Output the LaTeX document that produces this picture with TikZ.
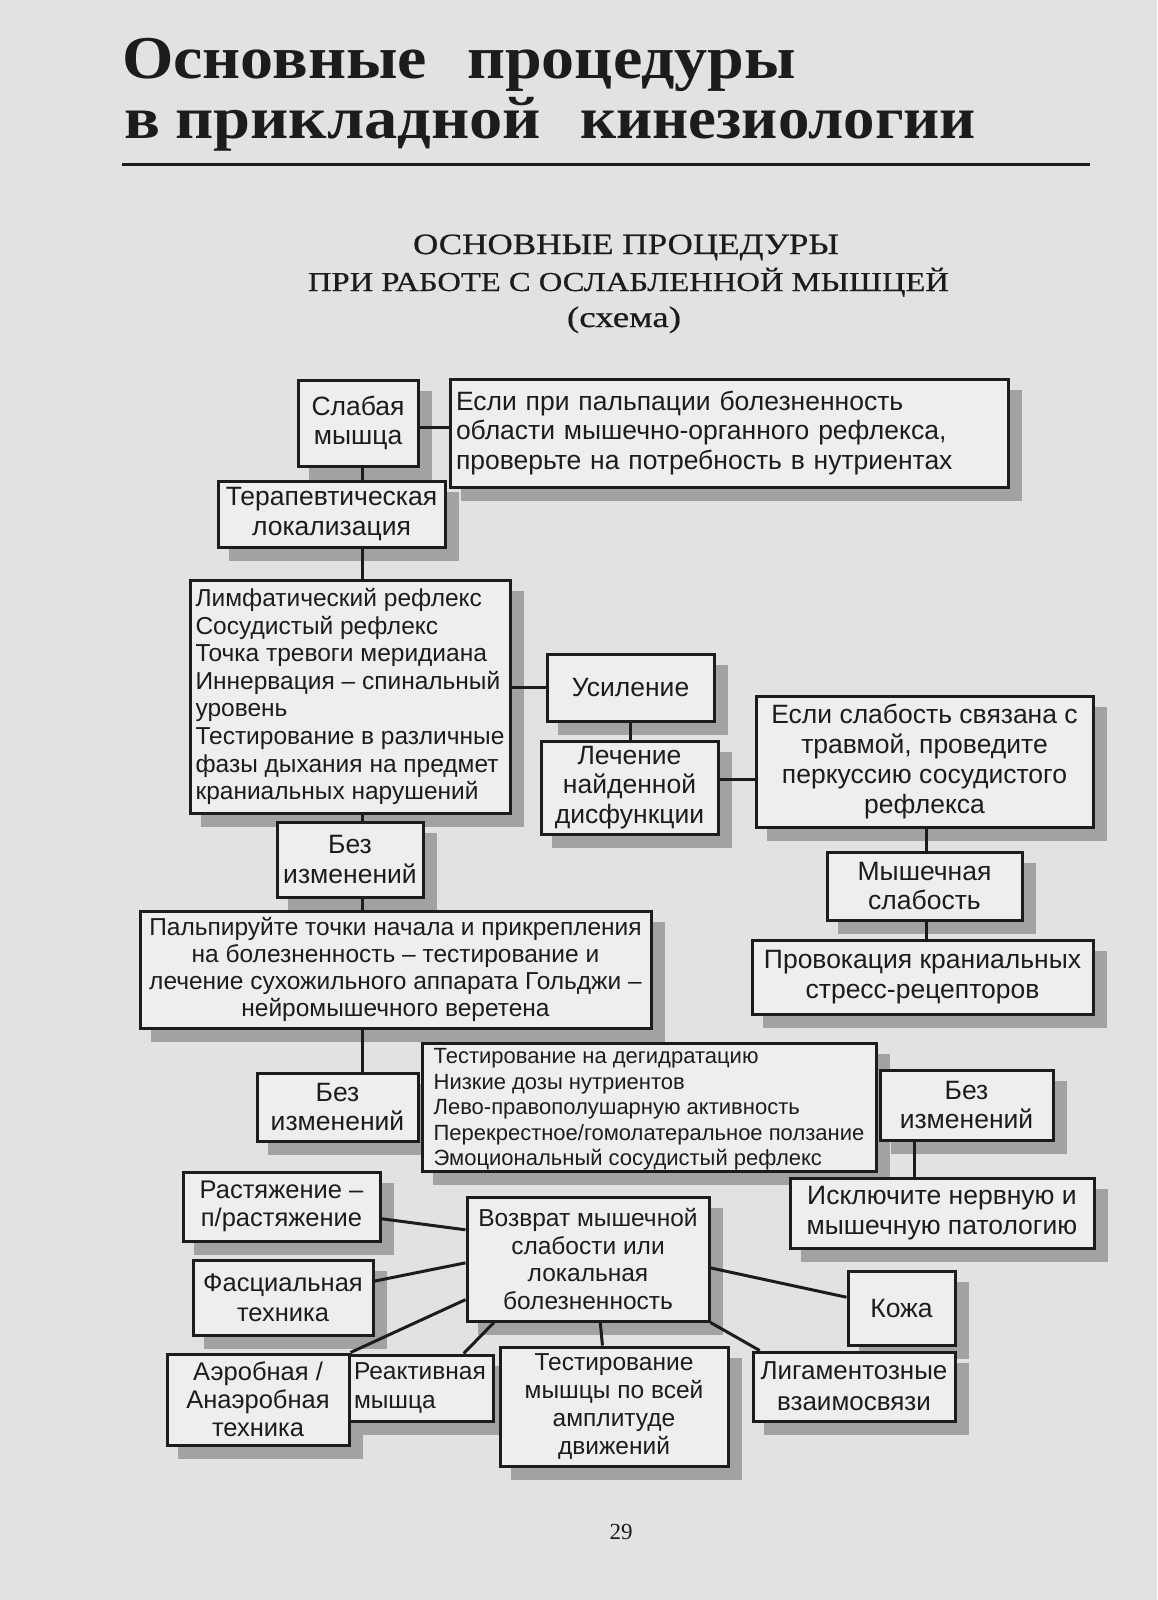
\documentclass[tikz,border=0pt]{standalone}
\usepackage{fontspec}
\setmainfont{Liberation Sans}
\newfontfamily\serifru{Liberation Serif}
\newfontfamily\serifhd[FakeBold=0.5]{Liberation Serif}
\usetikzlibrary{calc}
\pgfdeclarelayer{bgl}
\pgfdeclarelayer{shl}
\pgfsetlayers{bgl,shl,main}
\definecolor{pagebg}{HTML}{E2E2E2}
\definecolor{boxfill}{HTML}{EEEEEE}
\definecolor{shadowc}{HTML}{A2A2A2}
\definecolor{ink}{HTML}{1C1C1C}
\newcommand\fbig{\fontsize{26.5}{29.5}\selectfont}
\newcommand\fmid{\fontsize{24.5}{27.6}\selectfont}
\newcommand\fsml{\fontsize{22}{25.5}\selectfont}
\newlength\wlenA
\newlength\wlenB
\newlength\wlenC
\tikzset{
  box/.style={draw=ink, line width=3pt, fill=boxfill, inner sep=0pt, align=center, text=ink, font=\fbig},
  conn/.style={draw=ink, line width=3pt},
  ttl/.style={inner sep=0pt, text=ink},
}
\newcommand\bx[7]{%
  \pgfmathsetmacro\bxW{#4-#2}%
  \pgfmathsetmacro\bxH{#5-#3}%
  \pgfmathsetmacro\bxX{(#2+#4)/2}%
  \pgfmathsetmacro\bxY{(#3+#5)/2}%
  \node[box,minimum width=\bxW pt,minimum height=\bxH pt,#6] (#1) at (\bxX,\bxY) {#7};%
  \begin{pgfonlayer}{shl}\fill[shadowc] ([shift={(12,12)}]#1.north west) rectangle ([shift={(12,12)}]#1.south east);\end{pgfonlayer}%
}
% left-aligned box: text width = box width - #8
\newcommand\lbx[8]{%
  \pgfmathsetmacro\bxW{#4-#2}%
  \pgfmathsetmacro\bxT{#4-#2-#8}%
  \pgfmathsetmacro\bxH{#5-#3}%
  \pgfmathsetmacro\bxX{(#2+#4)/2}%
  \pgfmathsetmacro\bxY{(#3+#5)/2}%
  \node[box,align=left,text width=\bxT pt,minimum width=\bxW pt,minimum height=\bxH pt,#6] (#1) at (\bxX,\bxY) {#7};%
  \begin{pgfonlayer}{shl}\fill[shadowc] ([shift={(12,12)}]#1.north west) rectangle ([shift={(12,12)}]#1.south east);\end{pgfonlayer}%
}
\begin{document}
\settowidth\wlenA{\serifru\bfseries процедуры}%
\settowidth\wlenB{\serifru\bfseries прикладной}%
\settowidth\wlenC{\serifru\bfseries кинезиологии}%
\pgfmathsetmacro\tsa{329/\wlenA}%
\pgfmathsetmacro\tsay{\tsa*0.92}%
\pgfmathsetmacro\tsb{366/\wlenB}%
\pgfmathsetmacro\tsby{\tsb*0.9}%
\pgfmathsetmacro\tsc{396/\wlenC}%
\begin{tikzpicture}[x=1pt,y=-1pt]
\begin{pgfonlayer}{bgl}
\fill[pagebg] (0,0) rectangle (1157,1600);
\end{pgfonlayer}
\useasboundingbox (0,0) rectangle (1157,1600);

% title
\node[ttl,anchor=base west] (w1) at (122,79) {\scalebox{\tsa}[\tsay]{\serifru\bfseries Основные}};
\node[ttl,anchor=base west] (w2) at (467,79) {\scalebox{\tsa}[\tsay]{\serifru\bfseries процедуры}};
\node[ttl,anchor=base west] (w3) at (124,139) {\scalebox{\tsb}[\tsby]{\serifru\bfseries в}};
\node[ttl,anchor=base west] (w4) at (175,139) {\scalebox{\tsb}[\tsby]{\serifru\bfseries прикладной}};
\node[ttl,anchor=base west] (w5) at (580,139) {\scalebox{\tsc}[\tsby]{\serifru\bfseries кинезиологии}};
\coordinate (r1) at (122,164);
\coordinate (r2) at (1090,164);
\draw[ink,line width=3pt] (r1) -- (r2);

% heading
\node[ttl,anchor=base] (h1) at (626,254) {\scalebox{1}[0.84]{\resizebox{426pt}{!}{\serifhd ОСНОВНЫЕ ПРОЦЕДУРЫ}}};
\node[ttl,anchor=base] (h2) at (628.5,291) {\scalebox{1}[0.84]{\resizebox{641pt}{!}{\serifhd ПРИ РАБОТЕ С ОСЛАБЛЕННОЙ МЫШЦЕЙ}}};
\node[ttl,anchor=base] (h3) at (624,327) {\scalebox{1}[0.8]{\resizebox{114pt}{!}{\serifhd (схема)}}};

% boxes
\bx{s}{298}{380}{418}{466}{}{Слабая\\мышца}
\lbx{e}{450}{379}{1008}{487}{}{Если при пальпации болезненность\\области мышечно-органного рефлекса,\\проверьте на потребность в нутриентах}{12}
\bx{t}{218}{481}{445}{547}{}{Терапевтическая\\локализация}
\bx{l}{190}{580}{510}{813}{align=left,font=\fmid}{Лимфатический рефлекс\\Сосудистый рефлекс\\Точка тревоги меридиана\\Иннервация – спинальный\\уровень\\Тестирование в различные\\фазы дыхания на предмет\\краниальных нарушений}
\bx{u}{547}{654}{714}{721}{}{Усиление}
\bx{le}{541}{741}{718}{834}{}{Лечение\\найденной\\дисфункции}
\bx{es}{756}{696}{1093}{827}{font=\fontsize{26.5}{30}\selectfont}{Если слабость связана с\\травмой, проведите\\перкуссию сосудистого\\рефлекса}
\bx{m}{827}{852}{1022}{920}{}{Мышечная\\слабость}
\bx{pr}{752}{940}{1093}{1014}{}{Провокация краниальных\\стресс-рецепторов}
\bx{b1}{277}{822}{423}{897}{}{Без\\изменений}
\bx{p}{140}{911}{651}{1028}{font=\fontsize{24.5}{27}\selectfont}{Пальпируйте точки начала и прикрепления\\на болезненность – тестирование и\\лечение сухожильного аппарата Гольджи –\\нейромышечного веретена}
\bx{b2}{257}{1073}{418}{1141}{}{Без\\изменений}
\bx{lst}{422}{1043}{876}{1171}{align=left,font=\fsml}{\rule{0pt}{20pt}Тестирование на дегидратацию\\Низкие дозы нутриентов\\Лево-правополушарную активность\\Перекрестное/гомолатеральное ползание\\Эмоциональный сосудистый рефлекс}
\bx{b3}{880}{1070}{1053}{1140}{}{Без\\изменений}
\bx{ex}{790}{1178}{1094}{1248}{}{Исключите нервную и\\мышечную патологию}
\bx{ra}{183}{1172}{380}{1241}{font=\fontsize{25.5}{28}\selectfont}{Растяжение –\\п/растяжение}
\bx{fa}{193}{1260}{373}{1335}{font=\fontsize{25.5}{30}\selectfont}{Фасциальная\\техника}
\bx{vo}{467}{1197}{709}{1321}{font=\fontsize{24.5}{27.5}\selectfont}{Возврат мышечной\\слабости или\\локальная\\болезненность}
\bx{ko}{848}{1271}{955}{1345}{}{Кожа}
\lbx{re}{349}{1355}{493}{1421}{font=\fontsize{24.5}{28.5}\selectfont}{Реактивная\\мышца}{10}
\bx{ae}{167}{1354}{349}{1445}{font=\fontsize{25.5}{28}\selectfont}{Аэробная /\\Анаэробная\\техника}
\bx{tm}{500}{1347}{728}{1466}{font=\fontsize{24.5}{28}\selectfont}{Тестирование\\мышцы по всей\\амплитуде\\движений}
\bx{li}{753}{1352}{955}{1421}{font=\fontsize{26}{31}\selectfont}{Лигаментозные\\взаимосвязи}

% connectors
\coordinate (vx) at (362,0);
\coordinate (vr) at (926,0);
\coordinate (vr2) at (914,0);
\coordinate (c1) at ($(s.north east)!0.55!(s.south east)$);
\draw[conn] (c1) -- (c1 -| e.west);
\draw[conn] (vx |- s.south) -- (vx |- t.north);
\draw[conn] (vx |- t.south) -- (vx |- l.north);
\draw[conn] (vx |- l.south) -- (vx |- b1.north);
\draw[conn] (vx |- b1.south) -- (vx |- p.north);
\draw[conn] (vx |- p.south) -- (vx |- b2.north);
\draw[conn] (l.east |- u.west) -- (u.west);
\draw[conn] (u.south) -- (u.south |- le.north);
\coordinate (c9) at ($(le.north east)!0.42!(le.south east)$);
\draw[conn] (c9) -- (c9 -| es.west);
\draw[conn] (vr |- es.south) -- (vr |- m.north);
\draw[conn] (vr |- m.south) -- (vr |- pr.north);
\draw[conn] (vr2 |- b3.south) -- (vr2 |- ex.north);
\draw[conn] ($(ra.north east)!0.67!(ra.south east)$) -- ($(vo.north west)!0.27!(vo.south west)$);
\draw[conn] ($(fa.north east)!0.29!(fa.south east)$) -- ($(vo.north west)!0.53!(vo.south west)$);
\draw[conn] (ae.north east) -- ($(vo.north west)!0.82!(vo.south west)$);
\draw[conn] ($(re.north west)!0.79!(re.north east)$) -- ($(vo.south west)!0.116!(vo.south east)$);
\draw[conn] ($(tm.north west)!0.45!(tm.north east)$) -- ($(vo.south west)!0.55!(vo.south east)$);
\draw[conn] ($(vo.north east)!0.57!(vo.south east)$) -- ($(ko.north west)!0.36!(ko.south west)$);
\draw[conn] (vo.south east) -- ($(li.north west)!0.04!(li.north east)$);

% page number
\node[ttl,font=\serifru\fontsize{23}{25}\selectfont] (pg) at (621,1532) {29};
\end{tikzpicture}
\end{document}
